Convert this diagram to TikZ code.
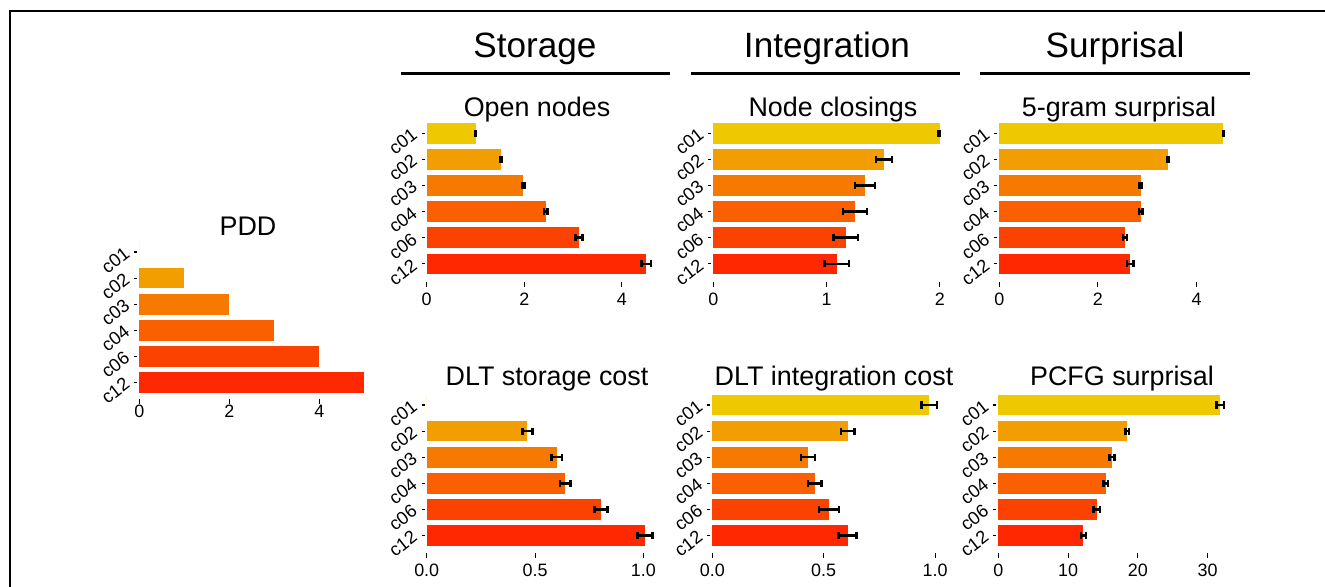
\documentclass[tikz,border=0pt]{standalone}
\usepackage{fontspec}
\setmainfont{Liberation Sans}
\usetikzlibrary{arrows.meta}

\definecolor{cA}{RGB}{238,200,0}
\definecolor{cB}{RGB}{242,157,0}
\definecolor{cC}{RGB}{247,122,0}
\definecolor{cD}{RGB}{250,95,0}
\definecolor{cE}{RGB}{252,66,0}
\definecolor{cF}{RGB}{255,40,0}

% bars of one panel: name, zero x, y of first row, px per unit, value/error list
\newcommand{\hbars}[5]{%
  \foreach \val/\err [count=\i from 0] in {#5} {
    \pgfmathsetmacro{\yc}{#3+26.1*\i}
    \pgfmathsetmacro{\lab}{{"c01","c02","c03","c04","c06","c12"}[\i]}
    \pgfmathsetmacro{\col}{{"cA","cB","cC","cD","cE","cF"}[\i]}
    \draw[ytick] (#2-5,\yc) -- (#2-2,\yc);
    \node[ylab] (#1-\lab) at (#2-12,\yc-1) {\lab};
    \fill[\col] (#2,\yc-10.3) rectangle ({#2+#4*\val},\yc+10.3);
    \ifdim\err pt>0pt
      \draw[errbar] ({#2+#4*(\val-\err)},\yc) -- ({#2+#4*(\val+\err)},\yc);
    \fi
  }%
}
% x axis of one panel: name, zero x, px per unit, tick y, label y, value/text list
\newcommand{\xaxis}[6]{%
  \foreach \t/\tl [count=\k] in {#6} {
    \draw[xtick] ({#2+#3*\t},#4) -- ({#2+#3*\t},#4+5);
    \node[tlab] (#1-x\k) at ({#2+#3*\t},#5) {\tl};
  }%
}

\begin{document}
\begin{tikzpicture}[x=0.02cm,y=-0.02cm,
    ytick/.style={line width=0.6pt},
    xtick/.style={line width=0.5pt},
    errbar/.style={line width=1.4pt,{Bar[width=4pt]}-{Bar[width=4pt]}},
    ylab/.style={rotate=38,anchor=east,inner sep=0pt,font=\fontsize{10.4}{12}\selectfont},
    tlab/.style={inner sep=0pt,font=\fontsize{10.2}{12}\selectfont},
    head/.style={anchor=base,inner sep=0pt,font=\fontsize{20}{24}\selectfont},
    sub/.style={anchor=base,inner sep=0pt,font=\fontsize{15.3}{18}\selectfont},
    rule/.style={line width=1.7pt}]
\useasboundingbox (0,0) rectangle (1325,586);
\draw[line width=1.6pt] (10,600) -- (10,11) -- (1340,11);

% group headings
\node[head] (storage) at (535,57) {Storage};
\node[head] (integration) at (827,57) {Integration};
\node[head] (surprisal) at (1115,57) {Surprisal};
\draw[rule] (401,73) -- (670,73);
\draw[rule] (691,73) -- (960,73);
\draw[rule] (980,73) -- (1250,73);

% panel titles
\node[sub] (pdd) at (248,235) {PDD};
\node[sub] (open) at (537,116) {Open nodes};
\node[sub] (closings) at (833,116) {Node closings};
\node[sub] (ngram) at (1119,116) {5-gram surprisal};
\node[sub] (dltstore) at (547,385) {DLT storage cost};
\node[sub] (dltint) at (834,385) {DLT integration cost};
\node[sub] (pcfg) at (1122,385) {PCFG surprisal};

% PDD
\hbars{pdd}{139.3}{252}{45}{0/-1,1/-1,2/-1,3/-1,4/-1,5/-1}
\xaxis{pdd}{139.3}{45}{398.5}{411}{0/0,2/2,4/4}

% top row
\hbars{open}{426.7}{133.3}{48.8}{1.0/0.02,1.52/0.04,1.98/0.05,2.44/0.06,3.12/0.1,4.5/0.12}
\xaxis{open}{426.7}{48.8}{282}{299}{0/0,2/2,4/4}
\hbars{closings}{713.3}{133.3}{113.3}{2.0/0.006,1.506/0.08,1.34/0.1,1.25/0.115,1.17/0.12,1.09/0.12}
\xaxis{closings}{713.3}{113.3}{282}{299}{0/0,1/1,2/2}
\hbars{ngram}{999.3}{133.3}{49.3}{4.54/0.03,3.43/0.04,2.87/0.05,2.87/0.06,2.55/0.07,2.66/0.09}
\xaxis{ngram}{999.3}{49.3}{282}{299}{0/0,2/2,4/4}

% bottom row
\hbars{dltstore}{426.7}{405}{216.7}{0/0,0.465/0.028,0.60/0.03,0.64/0.03,0.805/0.036,1.007/0.04}
\xaxis{dltstore}{426.7}{216.7}{553}{570}{0/0.0,0.5/0.5,1/1.0}
\hbars{dltint}{712.3}{405}{222.7}{0.974/0.04,0.608/0.036,0.43/0.037,0.46/0.035,0.524/0.05,0.608/0.046}
\xaxis{dltint}{712.3}{222.7}{553}{570}{0/0.0,0.5/0.5,1/1.0}
\hbars{pcfg}{998.3}{405}{6.98}{31.8/0.7,18.5/0.43,16.3/0.55,15.4/0.5,14.1/0.65,12.2/0.5}
\xaxis{pcfg}{998.3}{6.98}{553}{570}{0/0,10/10,20/20,30/30}

\end{tikzpicture}
\end{document}
